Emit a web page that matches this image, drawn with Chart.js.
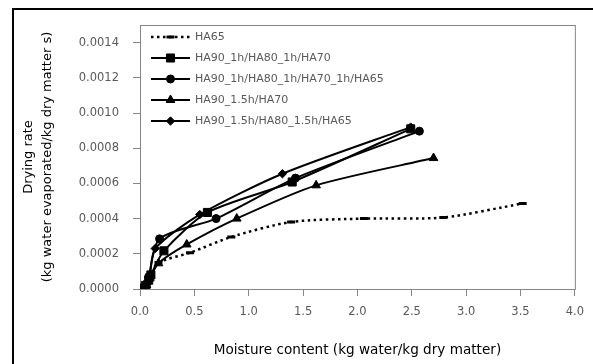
<!DOCTYPE html>
<html>
<head>
<meta charset="utf-8">
<script src="https://cdn.jsdelivr.net/npm/chart.js@4"></script>
<style>
  html, body { margin: 0; padding: 0; background: #fff; overflow: hidden; }
  #wrap { position: relative; width: 593px; height: 364px; }
  #frame { position: absolute; left: 12px; top: 8px; width: 700px; height: 500px;
           border-left: 2px solid #000; border-top: 2px solid #000; pointer-events: none; }
</style>
</head>
<body>
<div id="wrap">
  <canvas id="chart" width="593" height="364"></canvas>
  <div id="frame"></div>
</div>
<script>
// series labels
const seriesNames = [
  'HA65',
  'HA90_1h/HA80_1h/HA70',
  'HA90_1h/HA80_1h/HA70_1h/HA65',
  'HA90_1.5h/HA70',
  'HA90_1.5h/HA80_1.5h/HA65'
];

// moisture content (x) and drying rate (y)
const ha65X = [0.04, 0.06, 0.09, 0.17, 0.46, 0.84, 1.39, 2.06, 2.79, 3.52];
const ha65Y = [0.000000, 0.000020, 0.000070, 0.000150, 0.000206, 0.000296, 0.000381, 0.000400, 0.000406, 0.000486];

const sqX = [0.04, 0.05, 0.08, 0.10, 0.22, 0.62, 1.40, 2.49];
const sqY = [0.000005, 0.000020, 0.000050, 0.000080, 0.000217, 0.000435, 0.000608, 0.000910];

const ciX = [0.04, 0.06, 0.08, 0.18, 0.70, 1.43, 2.57];
const ciY = [0.000005, 0.000030, 0.000070, 0.000285, 0.000400, 0.000630, 0.000897];

const trX = [0.04, 0.06, 0.09, 0.17, 0.43, 0.89, 1.62, 2.70];
const trY = [0.000003, 0.000020, 0.000060, 0.000146, 0.000253, 0.000400, 0.000589, 0.000744];

const diX = [0.04, 0.06, 0.09, 0.14, 0.55, 1.31, 2.49];
const diY = [0.000005, 0.000030, 0.000080, 0.000230, 0.000423, 0.000655, 0.000920];

const xTicks = [0, 0.5, 1.0, 1.5, 2.0, 2.5, 3.0, 3.5, 4.0];
const yTicks = [0, 0.0002, 0.0004, 0.0006, 0.0008, 0.0010, 0.0012, 0.0014];

function pts(xs, ys) {
  return xs.map((x, i) => ({ x: x, y: ys[i] }));
}

const axisGray = '#868686';
const textGray = '#595959';
const fontFamily = '"DejaVu Sans", sans-serif';

function makeSet(label, data, style, radius, dashed) {
  return {
    label: label,
    data: data,
    showLine: true,
    borderColor: '#000',
    backgroundColor: '#000',
    borderWidth: dashed ? 2.5 : 2,
    borderDash: dashed ? [2.5, 3.5] : [],
    tension: 0.25,
    pointStyle: style,
    pointRadius: radius,
    pointHoverRadius: radius,
    pointBackgroundColor: '#000',
    pointBorderColor: '#000',
    pointBorderWidth: style === 'line' ? 3 : 1
  };
}

// plot area frame (top and right edges)
const plotFrame = {
  id: 'plotFrame',
  beforeDatasetsDraw(chart) {
    const a = chart.chartArea, ctx = chart.ctx;
    ctx.save();
    ctx.strokeStyle = axisGray;
    ctx.lineWidth = 1;
    ctx.strokeRect(a.left + 0.5, a.top + 0.5, a.right - a.left, a.bottom - a.top);
    ctx.restore();
  }
};

// legend drawn inside the plot, top left, line + marker like the original
const insideLegend = {
  id: 'insideLegend',
  afterDraw(chart) {
    const ctx = chart.ctx;
    const x0 = 151, x1 = 190, tx = 195, y0 = 37, step = 21;
    chart.data.datasets.forEach((ds, i) => {
      const y = y0 + i * step;
      ctx.save();
      ctx.strokeStyle = ds.borderColor;
      ctx.lineWidth = ds.borderWidth;
      ctx.setLineDash(ds.borderDash);
      ctx.beginPath();
      ctx.moveTo(x0, y);
      ctx.lineTo(x1, y);
      ctx.stroke();
      ctx.setLineDash([]);
      ctx.fillStyle = '#000';
      ctx.strokeStyle = '#000';
      ctx.lineWidth = ds.pointBorderWidth;
      Chart.helpers.drawPoint(ctx, { pointStyle: ds.pointStyle, radius: ds.pointRadius, rotation: 0, borderWidth: ds.pointBorderWidth }, (x0 + x1) / 2, y);
      ctx.fillStyle = textGray;
      ctx.font = '11px ' + fontFamily;
      ctx.textBaseline = 'middle';
      ctx.textAlign = 'left';
      ctx.fillText(ds.label, tx, y);
      ctx.restore();
    });
  }
};

new Chart(document.getElementById('chart'), {
  type: 'scatter',
  data: {
    datasets: [
      makeSet(seriesNames[0], pts(ha65X, ha65Y), 'line', 4, true),
      makeSet(seriesNames[1], pts(sqX, sqY), 'rect', 5.7, false),
      makeSet(seriesNames[2], pts(ciX, ciY), 'circle', 4, false),
      makeSet(seriesNames[3], pts(trX, trY), 'triangle', 5, false),
      makeSet(seriesNames[4], pts(diX, diY), 'rectRot', 4.2, false)
    ]
  },
  options: {
    responsive: false,
    animation: false,
    layout: { padding: { left: 0, right: 16, top: 25, bottom: 0 } },
    plugins: {
      legend: { display: false },
      tooltip: { enabled: false }
    },
    scales: {
      x: {
        type: 'linear',
        min: 0,
        max: 4,
        afterBuildTicks: (s) => { s.ticks = xTicks.map(v => ({ value: v })); },
        afterFit: (s) => { s.height = 75; },
        grid: { display: true, drawOnChartArea: false, drawTicks: true, tickLength: 7, color: axisGray },
        border: { color: axisGray, width: 1 },
        ticks: {
          color: textGray,
          padding: 9,
          font: { family: fontFamily, size: 11.5 },
          callback: (v) => v.toFixed(1)
        },
        title: {
          display: true,
          text: 'Moisture content (kg water/kg dry matter)',
          color: '#000',
          font: { family: fontFamily, size: 13.6, lineHeight: 1.4 },
          padding: { top: 0, bottom: 4 }
        }
      },
      y: {
        type: 'linear',
        min: 0,
        max: 0.0015,
        afterBuildTicks: (s) => { s.ticks = yTicks.map(v => ({ value: v })); },
        afterFit: (s) => { s.width = 140; },
        grid: { display: true, drawOnChartArea: false, drawTicks: true, tickLength: 7, color: axisGray },
        border: { color: axisGray, width: 1 },
        ticks: {
          color: textGray,
          padding: 14,
          font: { family: fontFamily, size: 11.5 },
          callback: (v) => v.toFixed(4)
        },
        title: {
          display: true,
          text: ['Drying rate', '(kg water evaporated/kg dry matter s)'],
          color: '#000',
          font: { family: fontFamily, size: 13, lineHeight: 1.4 },
          padding: { top: 20, bottom: 0 }
        }
      }
    }
  },
  plugins: [plotFrame, insideLegend]
});
</script>
</body>
</html>
